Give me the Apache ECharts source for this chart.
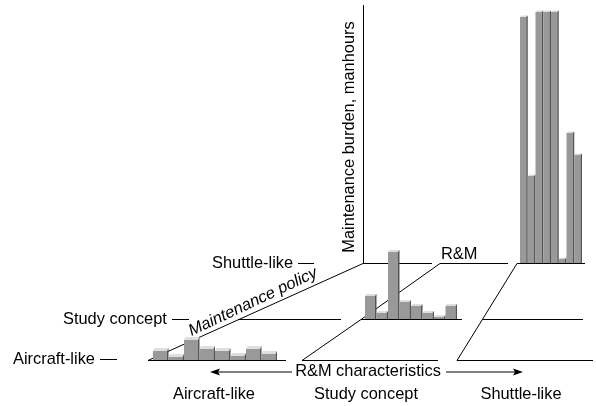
<!DOCTYPE html>
<html style="height: 100%">
    <head>
        <meta charset="utf-8">
    </head>
    <body style="height: 100%; margin: 0; background: #fff">
        <div id="container" style="width: 596px; height: 406px"></div>

        <script type="text/javascript" src="https://cdn.jsdelivr.net/npm/echarts@6/dist/echarts.min.js"></script>

        <script type="text/javascript">
var buckets = ['1', '2', '3', '4', '5', '6', '7', '8'];

// manhours (same scale in all three panels)
var aircraftValues = [9, 3, 20, 11, 9, 4, 11, 6];
var studyValues = [23, 6, 67, 17, 13, 6, 2, 13];
var shuttleValues = [246, 87, 251, 251, 251, 4, 130, 108];

var valueMax = 260;
var fontName = '"Liberation Sans", Arial, sans-serif';

var myChart = echarts.init(document.getElementById('container'), null, { renderer: 'canvas' });

// one grid per panel, 1 manhour unit = 1px
var panels = [
  { left: 153, width: 124, bottom: 360, depth: 3, values: aircraftValues },
  { left: 365, width: 92, bottom: 319, depth: 2, values: studyValues },
  { left: 520, width: 62, bottom: 263, depth: 1.5, values: shuttleValues }
];

function renderBar(params, api) {
  var base = api.coord([api.value(0), 0]);
  var top = api.coord([api.value(0), api.value(1)]);
  var w = api.size([1, 0])[0];
  var x0 = base[0] - w / 2;
  var x1 = base[0] + w / 2;
  var dx = 1.5;
  var dy = panels[params.seriesIndex].depth;
  return {
    type: 'group',
    children: [
      { type: 'rect', shape: { x: x0, y: top[1], width: w - dx, height: base[1] - top[1] }, style: { fill: '#999999' } },
      { type: 'polygon', shape: { points: [[x0, top[1]], [x0 + dx, top[1] - dy], [x1, top[1] - dy], [x1 - dx, top[1]]] }, style: { fill: '#dedede' } },
      { type: 'polygon', shape: { points: [[x1 - dx, top[1]], [x1, top[1] - dy], [x1, base[1]], [x1 - dx, base[1]]] }, style: { fill: '#555555' } }
    ]
  };
}

var grids = [], xAxes = [], yAxes = [], series = [];
panels.forEach(function (p, i) {
  grids.push({ left: p.left, width: p.width, top: p.bottom - valueMax, height: valueMax });
  xAxes.push({ type: 'category', gridIndex: i, data: buckets, show: false });
  yAxes.push({ type: 'value', gridIndex: i, min: 0, max: valueMax, show: false });
  series.push({
    type: 'custom',
    xAxisIndex: i,
    yAxisIndex: i,
    z: 5,
    clip: false,
    silent: true,
    renderItem: renderBar,
    encode: { x: 0, y: 1 },
    data: p.values.map(function (v, k) { return [k, v]; })
  });
});

function line(x1, y1, x2, y2) {
  return { type: 'line', z: 1, silent: true, shape: { x1: x1, y1: y1, x2: x2, y2: y2 }, style: { stroke: '#000', lineWidth: 1 } };
}

function label(text, x, y, align, rotation, italic) {
  return {
    type: 'text', z: 10, silent: true, x: x, y: y, rotation: rotation || 0,
    style: {
      text: text, fill: '#000', align: align || 'left', verticalAlign: 'middle',
      font: (italic ? 'italic ' : '') + '16.4px ' + fontName
    }
  };
}

var frame = [
  line(363.5, 5, 363.5, 263.5),
  line(363, 263.5, 432, 263.5),
  line(363, 263.5, 148, 360.5),
  line(148, 360.5, 286, 360.5),
  line(238, 319.5, 341, 319.5),
  line(172, 319.5, 189, 319.5),
  line(298, 263.5, 314, 263.5),
  line(100, 359.5, 117, 359.5),
  line(361, 319.5, 462, 319.5),
  line(361, 319.5, 302, 360.5),
  line(302, 360.5, 438, 360.5),
  line(440, 263.5, 361, 319.5),
  line(440, 263.5, 508, 263.5),
  line(517, 263.5, 585, 263.5),
  line(517, 263.5, 457, 360.5),
  line(457, 360.5, 593, 360.5),
  line(483, 319.5, 583, 319.5),
  line(216, 372, 292, 372),
  line(446, 372, 516, 372),
  { type: 'polygon', z: 1, silent: true, shape: { points: [[210, 372], [220, 368.5], [218, 372], [220, 375.5]] }, style: { fill: '#000' } },
  { type: 'polygon', z: 1, silent: true, shape: { points: [[523, 372], [513, 368.5], [515, 372], [513, 375.5]] }, style: { fill: '#000' } }
];

var texts = [
  label('Maintenance burden, manhours', 349, 137, 'center', Math.PI / 2),
  label('Maintenance policy', 253, 302, 'center', 0.44, true),
  label('R&M', 441, 254),
  label('Shuttle-like', 212, 263),
  label('Study concept', 63, 319),
  label('Aircraft-like', 13, 359),
  label('R&M characteristics', 368, 371, 'center'),
  label('Aircraft-like', 214, 394, 'center'),
  label('Study concept', 366, 394, 'center'),
  label('Shuttle-like', 521, 394, 'center')
];

var option = {
  animation: false,
  grid: grids,
  xAxis: xAxes,
  yAxis: yAxes,
  series: series,
  graphic: { elements: frame.concat(texts) }
};

myChart.setOption(option);
        </script>
    </body>
</html>
